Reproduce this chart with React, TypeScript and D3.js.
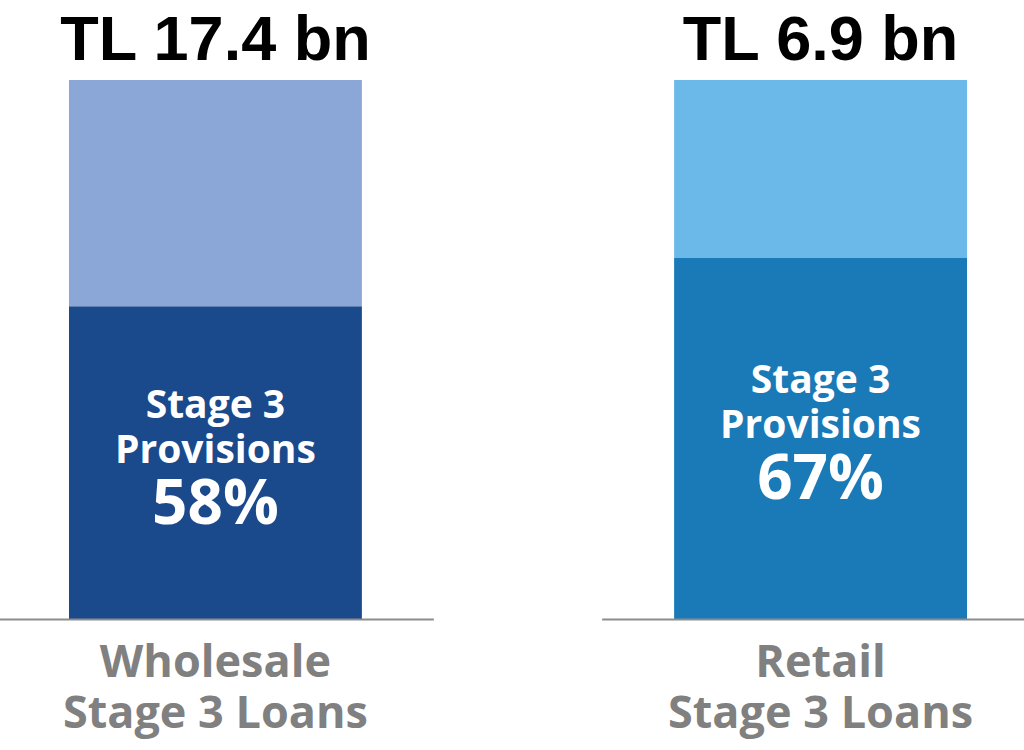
import React from 'react';
import * as d3 from 'd3';

const categories = ['Wholesale', 'Retail'];
const totalsBn = [17.4, 6.9];
const provisionPct = [58, 67];
const categoryLines = [
  ['Wholesale', 'Stage 3 Loans'],
  ['Retail', 'Stage 3 Loans'],
];
const lightColors = ['#8aa7d8', '#6bb9e9'];
const darkColors = ['#1a4a8c', '#1a7ab7'];

const W = 1024;
const H = 750;
const baseY = 619;
const topY = 80;
const labelFont = '"Open Sans", "Noto Sans", sans-serif';

export default function App() {
  const x = d3
    .scaleBand()
    .domain(categories)
    .range([0, 1036])
    .paddingInner(0.516)
    .paddingOuter(0.114);
  const y = d3.scaleLinear().domain([0, 100]).range([baseY, topY]);

  return (
    <svg
      width={W}
      height={H}
      style={{ position: 'absolute', left: 0, top: 0, background: '#fff' }}
    >
      {categories.map((c, i) => {
        const x0 = x(c) as number;
        const bw = x.bandwidth();
        const cx = x0 + bw / 2;
        const splitY = y(provisionPct[i]);
        const midDark = (splitY + baseY) / 2;
        return (
          <g key={c}>
            <rect x={x0} y={y(100)} width={bw} height={splitY - y(100)} fill={lightColors[i]} />
            <rect x={x0} y={splitY} width={bw} height={baseY - splitY} fill={darkColors[i]} />
            <line
              x1={Math.max(0, x0 - 72)}
              x2={Math.min(W, x0 + bw + 72)}
              y1={baseY + 0.5}
              y2={baseY + 0.5}
              stroke="#8c8c8c"
              strokeWidth={2}
            />
            <text
              x={cx}
              y={60}
              textAnchor="middle"
              fontFamily='"Liberation Sans", Arial, sans-serif'
              fontWeight="bold"
              fontSize={63}
              fill="#000"
            >
              {`TL ${totalsBn[i]} bn`}
            </text>
            <g fontFamily={labelFont} fontWeight="bold" fill="#fff" textAnchor="middle">
              <text x={cx} y={midDark - 45} fontSize={39}>Stage 3</text>
              <text x={cx} y={midDark} fontSize={39}>Provisions</text>
              <text x={cx} y={midDark + 61} fontSize={62}>{`${provisionPct[i]}%`}</text>
            </g>
            <g fontFamily={labelFont} fontWeight="bold" fill="#808080" textAnchor="middle" fontSize={45}>
              {categoryLines[i].map((line, j) => (
                <text key={j} x={cx} y={677 + j * 51}>
                  {line}
                </text>
              ))}
            </g>
          </g>
        );
      })}
    </svg>
  );
}
